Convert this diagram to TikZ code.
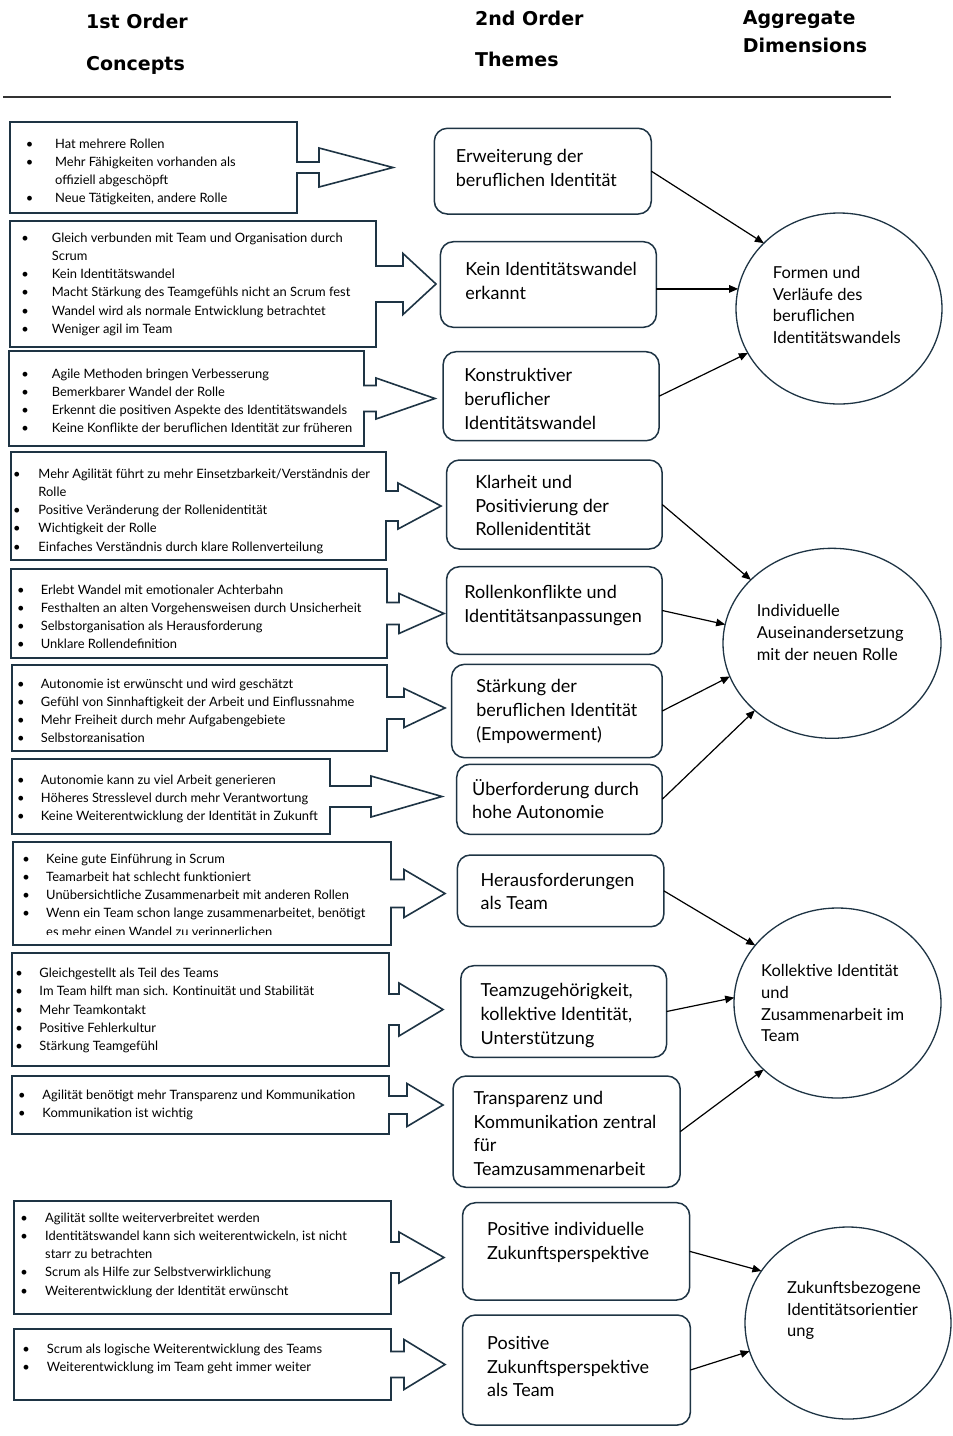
\documentclass[tikz,border=0pt]{standalone}
\usepackage{fontspec}
\setmainfont{Lato}
\newfontfamily\headfont{DejaVu Sans}
\usetikzlibrary{shapes.geometric,arrows.meta,calc}
\definecolor{boxc}{RGB}{30,52,68}
\newlength\bgap
\newcommand\bi[1]{\makebox[0pt]{\textbullet}\hspace*{\bgap}#1}
\newcommand\bc[1]{\hspace*{\bgap}#1}
\newcommand\blockarrow[5]{%
  \draw[boxline] ($(#1.east)+(0,-#2)$) -- (#1.north east) -- (#1.north west) -- (#1.south west)
    -- (#1.south east) -- ($(#1.east)+(0,#2)$) -- ($(#1.east)+(#4,#2)$) -- ($(#1.east)+(#4,#3)$)
    -- ($(#1.east)+(#5,0)$) -- ($(#1.east)+(#4,-#3)$) -- ($(#1.east)+(#4,-#2)$) -- cycle;}
\begin{document}
\begin{tikzpicture}[x=1pt,y=-1pt,line join=miter,
  lbox/.style={rectangle,draw=none,inner sep=0pt,outer sep=0pt,anchor=north west},
  theme/.style={rectangle,rounded corners=13pt,draw=boxc,line width=1.5pt,inner sep=0pt,outer sep=0pt,anchor=north west},
  boxline/.style={draw=boxc,line width=1.6pt},
  btxt/.style={anchor=base west,inner sep=0pt,font=\fontsize{12.9}{18.2}\selectfont},
  thtxt/.style={anchor=base west,inner sep=0pt,font=\fontsize{18}{23.8}\selectfont},
  ctxt/.style={anchor=base west,inner sep=0pt,font=\fontsize{16.5}{21.7}\selectfont},
  circ/.style={ellipse,draw=boxc,line width=1.3pt,inner sep=0pt,outer sep=0pt},
  conn/.style={-{Triangle[length=9pt,width=7.5pt]},line width=1.2pt,black},
  head/.style={anchor=base west,inner sep=0pt,font=\headfont\bfseries\fontsize{19}{22}\selectfont}]
\useasboundingbox (0,0) rectangle (953,1436);

% headings
\node[head] (h1a) at (86,28.3) {1st Order};
\node[head] (h1b) at (86,70) {Concepts};
\node[head] (h2a) at (475,25.7) {2nd Order};
\node[head] (h2b) at (475,66.7) {Themes};
\node[head] (h3a) at (742.7,24) {Aggregate};
\node[head] (h3b) at (742.7,52.7) {Dimensions};
\coordinate (ruleL) at (3,97.3);
\coordinate (ruleR) at (890.7,97.3);
\draw[line width=2pt,black!80] (ruleL) -- (ruleR);

% ---------- left boxes ----------
\node[lbox,minimum width=287pt,minimum height=91pt] (B1) at (10,122) {};
\blockarrow{B1}{5.5}{19.5}{22}{96}
\node[btxt] (B1t) at (29.3,148.3) {\setlength\bgap{25.7pt}\begin{tabular}[t]{@{}l@{}}
\bi{Hat mehrere Rollen}\\ \bi{Mehr Fähigkeiten vorhanden als}\\ \bc{offiziell abgeschöpft}\\ \bi{Neue Tätigkeiten, andere Rolle}\end{tabular}};

\node[lbox,minimum width=366pt,minimum height=126pt] (B2) at (10,221) {};
\blockarrow{B2}{18}{30.5}{27}{60}
\node[btxt] (B2t) at (25,242.3) {\setlength\bgap{26.7pt}\begin{tabular}[t]{@{}l@{}}
\bi{Gleich verbunden mit Team und Organisation durch}\\ \bc{Scrum}\\ \bi{Kein Identitätswandel}\\
\bi{Macht Stärkung des Teamgefühls nicht an Scrum fest}\\ \bi{Wandel wird als normale Entwicklung betrachtet}\\ \bi{Weniger agil im Team}\end{tabular}};

\node[lbox,minimum width=355pt,minimum height=95pt] (B3) at (9,351) {};
\blockarrow{B3}{13}{20.5}{12}{71}
\node[btxt] (B3t) at (25,378.3) {\setlength\bgap{26.7pt}\begin{tabular}[t]{@{}l@{}}
\bi{Agile Methoden bringen Verbesserung}\\ \bi{Bemerkbarer Wandel der Rolle}\\
\bi{Erkennt die positiven Aspekte des Identitätswandels}\\ \bi{Keine Konflikte der beruflichen Identität zur früheren}\end{tabular}};

\node[lbox,minimum width=375pt,minimum height=108pt] (B4) at (11,452) {};
\blockarrow{B4}{15}{23}{12}{55}
\node[btxt] (B4t) at (16.7,478.3) {\setlength\bgap{21.6pt}\begin{tabular}[t]{@{}l@{}}
\bi{Mehr Agilität führt zu mehr Einsetzbarkeit/Verständnis der}\\ \bc{Rolle}\\ \bi{Positive Veränderung der Rollenidentität}\\
\bi{Wichtigkeit der Rolle}\\ \bi{Einfaches Verständnis durch klare Rollenverteilung}\end{tabular}};

\node[lbox,minimum width=376pt,minimum height=89pt] (B5) at (11,569) {};
\blockarrow{B5}{11}{20}{12}{57}
\begin{scope}
\clip (12,570) rectangle (386,648);
\node[btxt] (B5t) at (20.7,594) {\setlength\bgap{20pt}\begin{tabular}[t]{@{}l@{}}
\bi{Erlebt Wandel mit emotionaler Achterbahn}\\ \bi{Festhalten an alten Vorgehensweisen durch Unsicherheit}\\
\bi{Selbstorganisation als Herausforderung}\\ \bi{Unklare Rollendefinition}\end{tabular}};
\end{scope}

\node[lbox,minimum width=375pt,minimum height=86pt] (B6) at (12,665) {};
\blockarrow{B6}{11}{19.5}{17}{58}
\begin{scope}
\clip (13,666) rectangle (386,741.5);
\node[btxt] (B6t) at (20.7,688.3) {\setlength\bgap{20pt}\begin{tabular}[t]{@{}l@{}}
\bi{Autonomie ist erwünscht und wird geschätzt}\\ \bi{Gefühl von Sinnhaftigkeit der Arbeit und Einflussnahme}\\
\bi{Mehr Freiheit durch mehr Aufgabengebiete}\\ \bi{Selbstorganisation}\end{tabular}};
\end{scope}

\node[lbox,minimum width=318pt,minimum height=75pt] (B7) at (12,759) {};
\blockarrow{B7}{10.5}{20.5}{41}{112}
\node[btxt] (B7t) at (20.7,784) {\setlength\bgap{20pt}\begin{tabular}[t]{@{}l@{}}
\bi{Autonomie kann zu viel Arbeit generieren}\\ \bi{Höheres Stresslevel durch mehr Verantwortung}\\
\bi{Keine Weiterentwicklung der Identität in Zukunft}\end{tabular}};

\node[lbox,minimum width=378pt,minimum height=103pt] (B8) at (13,842) {};
\blockarrow{B8}{14}{24}{13}{54}
\begin{scope}
\clip (14,843) rectangle (390,934.5);
\node[btxt] (B8t) at (26,863.3) {\setlength\bgap{20pt}\begin{tabular}[t]{@{}l@{}}
\bi{Keine gute Einführung in Scrum}\\ \bi{Teamarbeit hat schlecht funktioniert}\\
\bi{Unübersichtliche Zusammenarbeit mit anderen Rollen}\\ \bi{Wenn ein Team schon lange zusammenarbeitet, benötigt}\\
\bc{es mehr einen Wandel zu verinnerlichen}\end{tabular}};
\end{scope}

\node[lbox,minimum width=377pt,minimum height=113pt] (B9) at (12,953) {};
\blockarrow{B9}{15.5}{26.5}{10}{54}
\node[btxt] (B9t) at (19,977.7) {\setlength\bgap{20.3pt}\begin{tabular}[t]{@{}l@{}}
\bi{Gleichgestellt als Teil des Teams}\\ \bi{Im Team hilft man sich. Kontinuität und Stabilität}\\
\bi{Mehr Teamkontakt}\\ \bi{Positive Fehlerkultur}\\ \bi{Stärkung Teamgefühl}\end{tabular}};

\node[lbox,minimum width=377pt,minimum height=58pt] (B10) at (12,1076) {};
\blockarrow{B10}{9}{21.5}{18}{54}
\node[btxt] (B10t) at (21.7,1099.3) {\setlength\bgap{20.6pt}\begin{tabular}[t]{@{}l@{}}
\bi{Agilität benötigt mehr Transparenz und Kommunikation}\\ \bi{Kommunikation ist wichtig}\end{tabular}};

\node[lbox,minimum width=377pt,minimum height=113pt] (B11) at (14,1201) {};
\blockarrow{B11}{15.5}{25.5}{8}{53}
\node[btxt] (B11t) at (24,1222.3) {\setlength\bgap{21pt}\begin{tabular}[t]{@{}l@{}}
\bi{Agilität sollte weiterverbreitet werden}\\ \bi{Identitätswandel kann sich weiterentwickeln, ist nicht}\\
\bc{starr zu betrachten}\\ \bi{Scrum als Hilfe zur Selbstverwirklichung}\\ \bi{Weiterentwicklung der Identität erwünscht}\end{tabular}};

\node[lbox,minimum width=377pt,minimum height=71pt] (B12) at (14,1329) {};
\blockarrow{B12}{13}{25}{13}{54}
\node[btxt] (B12t) at (26,1353.3) {\setlength\bgap{20.7pt}\begin{tabular}[t]{@{}l@{}}
\bi{Scrum als logische Weiterentwicklung des Teams}\\ \bi{Weiterentwicklung im Team geht immer weiter}\end{tabular}};

% ---------- themes ----------
\node[theme,minimum width=217pt,minimum height=85.7pt] (T1) at (434.3,128.3) {};
\node[thtxt] (T1t) at (455.7,162.7) {\begin{tabular}[t]{@{}l@{}}Erweiterung der\\ beruflichen Identität\end{tabular}};
\node[theme,minimum width=216pt,minimum height=85.6pt] (T2) at (440.4,241.7) {};
\node[thtxt] (T2t) at (465.2,275.7) {\begin{tabular}[t]{@{}l@{}}Kein Identitätswandel\\ erkannt\end{tabular}};
\node[theme,minimum width=216pt,minimum height=89pt] (T3) at (443.1,351.7) {};
\node[thtxt] (T3t) at (464.2,381.7) {\begin{tabular}[t]{@{}l@{}}Konstruktiver\\ beruflicher\\ Identitätswandel\end{tabular}};
\node[theme,minimum width=215.7pt,minimum height=89pt] (T4) at (446.5,460) {};
\node[thtxt] (T4t) at (475.1,488.3) {\begin{tabular}[t]{@{}l@{}}Klarheit und\\ Positivierung der\\ Rollenidentität\end{tabular}};
\node[theme,minimum width=215.7pt,minimum height=87.6pt] (T5) at (446.5,566.7) {};
\node[thtxt] (T5t) at (464.2,598.3) {\begin{tabular}[t]{@{}l@{}}Rollenkonflikte und\\ Identitätsanpassungen\end{tabular}};
\node[theme,minimum width=210.6pt,minimum height=93.4pt] (T6) at (451.6,664.3) {};
\node[thtxt] (T6t) at (476.1,692.7) {\begin{tabular}[t]{@{}l@{}}Stärkung der\\ beruflichen Identität\\ (Empowerment)\end{tabular}};
\node[theme,minimum width=205.5pt,minimum height=70pt] (T7) at (456.7,764.3) {};
\node[thtxt] (T7t) at (472,795) {\begin{tabular}[t]{@{}l@{}}Überforderung durch\\ hohe Autonomie\end{tabular}};
\node[theme,minimum width=206.5pt,minimum height=71.7pt] (T8) at (457.4,855) {};
\node[thtxt] (T8t) at (480.5,886) {\begin{tabular}[t]{@{}l@{}}Herausforderungen\\ als Team\end{tabular}};
\node[theme,minimum width=205.8pt,minimum height=91.6pt] (T9) at (460.8,965.7) {};
\node[thtxt] (T9t) at (480.5,996.7) {\begin{tabular}[t]{@{}l@{}}Teamzugehörigkeit,\\ kollektive Identität,\\ Unterstützung\end{tabular}};
\node[theme,minimum width=227.2pt,minimum height=111.3pt] (T10) at (453,1076) {};
\node[thtxt] (T10t) at (473.4,1104.3) {\begin{tabular}[t]{@{}l@{}}Transparenz und\\ Kommunikation zentral\\ für\\ Teamzusammenarbeit\end{tabular}};
\node[theme,minimum width=227.2pt,minimum height=97.3pt] (T11) at (462.5,1202.7) {};
\node[thtxt] (T11t) at (487,1235.7) {\begin{tabular}[t]{@{}l@{}}Positive individuelle\\ Zukunftsperspektive\end{tabular}};
\node[theme,minimum width=227.9pt,minimum height=110pt] (T12) at (462.5,1315) {};
\node[thtxt] (T12t) at (487,1349.3) {\begin{tabular}[t]{@{}l@{}}Positive\\ Zukunftsperspektive\\ als Team\end{tabular}};

% ---------- aggregate dimensions ----------
\node[circ,minimum width=206pt,minimum height=191pt] (C1) at (839,308.5) {};
\node[ctxt] (C1t) at (772.7,278.3) {\begin{tabular}[t]{@{}l@{}}Formen und\\ Verläufe des\\ beruflichen\\ Identitätswandels\end{tabular}};
\node[circ,minimum width=218pt,minimum height=190pt] (C2) at (832,643.3) {};
\node[ctxt] (C2t) at (756.7,616.7) {\begin{tabular}[t]{@{}l@{}}Individuelle\\ Auseinandersetzung\\ mit der neuen Rolle\end{tabular}};
\node[circ,minimum width=207pt,minimum height=190pt] (C3) at (837.5,1003) {};
\node[ctxt] (C3t) at (761,976.7) {\begin{tabular}[t]{@{}l@{}}Kollektive Identität\\ und\\ Zusammenarbeit im\\ Team\end{tabular}};
\node[circ,minimum width=206pt,minimum height=192pt] (C4) at (848,1323) {};
\node[ctxt] (C4t) at (787,1293.3) {\begin{tabular}[t]{@{}l@{}}Zukunftsbezogene\\ Identitätsorientier\\ ung\end{tabular}};

% ---------- connectors ----------
\draw[conn] (T1.east) -- (C1.139);
\draw[conn] (T2.east |- C1.169) -- (C1.169);
\draw[conn] (T3.east) -- (C1.206);
\draw[conn] (T4.east) -- (C2.142);
\draw[conn] (T5.east) -- (C2.170);
\draw[conn] (T6.east) -- (C2.198);
\draw[conn] (T7.east) -- (C2.221);
\draw[conn] (T8.east) -- (C3.145);
\draw[conn] (T9.east) -- (C3.177);
\draw[conn] (T10.east) -- (C3.222);
\draw[conn] (T11.east) -- (C4.149);
\draw[conn] (T12.east) -- (C4.196);
\end{tikzpicture}
\end{document}
